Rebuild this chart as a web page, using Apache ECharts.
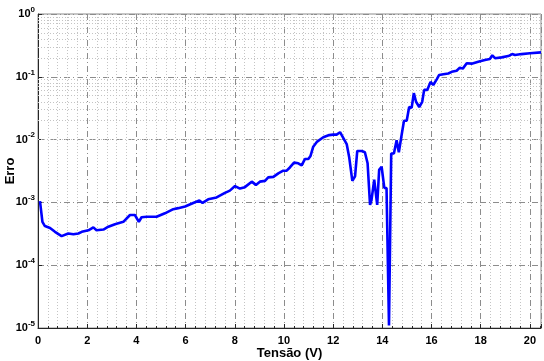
<!DOCTYPE html>
<html><head><meta charset="utf-8">
<script src="https://cdn.jsdelivr.net/npm/echarts@6/dist/echarts.min.js"></script>
<style>html,body{margin:0;padding:0;background:#fff}#c{width:544px;height:361px}</style>
</head><body><div id="c"></div>
<script>
const voltage = [0.08,0.18,0.28,0.49,0.69,0.96,1.23,1.44,1.64,1.78,2.05,2.25,2.38,2.66,2.86,3.13,3.47,3.74,3.94,4.10,4.21,4.42,4.82,5.16,5.50,5.70,5.98,6.31,6.56,6.69,6.92,7.26,7.60,7.80,8.01,8.21,8.41,8.69,8.86,9.02,9.23,9.36,9.57,9.77,9.97,10.11,10.24,10.41,10.58,10.72,10.85,10.99,11.08,11.19,11.35,11.60,11.84,12.00,12.14,12.28,12.55,12.65,12.78,12.89,12.98,13.16,13.29,13.40,13.50,13.56,13.67,13.79,13.87,13.97,14.08,14.17,14.27,14.36,14.47,14.58,14.67,14.80,14.88,14.99,15.09,15.19,15.28,15.37,15.50,15.62,15.70,15.83,15.96,16.07,16.21,16.31,16.48,16.68,16.82,17.02,17.15,17.27,17.43,17.63,17.90,18.17,18.37,18.47,18.58,18.85,19.12,19.28,19.39,19.66,20.00,20.45];
const erro = [1.05e-3,4.9e-4,4.2e-4,3.9e-4,3.4e-4,2.9e-4,3.2e-4,3.1e-4,3.2e-4,3.4e-4,3.6e-4,4.0e-4,3.6e-4,3.7e-4,4.1e-4,4.5e-4,4.9e-4,6.3e-4,6.3e-4,4.9e-4,5.8e-4,5.9e-4,5.9e-4,6.7e-4,7.8e-4,8.1e-4,8.6e-4,9.8e-4,1.07e-3,9.8e-4,1.12e-3,1.2e-3,1.42e-3,1.54e-3,1.82e-3,1.66e-3,1.75e-3,2.14e-3,1.9e-3,2.14e-3,2.2e-3,2.5e-3,2.55e-3,2.9e-3,3.2e-3,3.2e-3,3.6e-3,4.3e-3,4.2e-3,3.9e-3,4.9e-3,4.9e-3,5.5e-3,7.7e-3,9.3e-3,1.09e-2,1.18e-2,1.2e-2,1.2e-2,1.31e-2,8.5e-3,5.3e-3,2.2e-3,2.6e-3,6.6e-3,6.6e-3,6.3e-3,4.2e-3,9.1e-4,1.1e-3,2.3e-3,9.1e-4,3.3e-3,3.7e-3,1.7e-3,1.7e-3,1.1e-5,6.0e-3,6.0e-3,9.8e-3,6.3e-3,1.3e-2,2.0e-2,2.0e-2,3.3e-2,3.2e-2,5.5e-2,4.0e-2,3.3e-2,4.0e-2,6.2e-2,6.2e-2,8.3e-2,7.4e-2,9.1e-2,1.07e-1,1.1e-1,1.13e-1,1.2e-1,1.25e-1,1.4e-1,1.35e-1,1.64e-1,1.62e-1,1.74e-1,1.85e-1,1.92e-1,2.2e-1,1.98e-1,2.04e-1,2.14e-1,2.3e-1,2.22e-1,2.3e-1,2.37e-1,2.45e-1];
const xTicks = [0,2,4,6,8,10,12,14,16,18,20];
const decades = [-5,-4,-3,-2,-1,0];
const xName = 'Tensão (V)';
const yName = 'Erro';

const minorY = [];
for (let k = -5; k < 0; k++) for (let m = 2; m <= 9; m++) minorY.push(m * Math.pow(10, k));

const FONT = '"Liberation Sans", Arial, sans-serif';
const chart = echarts.init(document.getElementById('c'), null, {renderer: 'canvas'});
chart.setOption({
  animation: false,
  backgroundColor: '#fff',
  grid: {left: 38, right: 3, top: 14, bottom: 33, containLabel: false, outerBoundsMode: 'none',
    show: true, borderColor: '#8c8c8c', borderWidth: 1},
  xAxis: {
    type: 'value', min: 0, max: 20.45, interval: 2,
    name: xName, nameLocation: 'middle', nameGap: 19, nameMoveOverlap: false,
    nameTextStyle: {fontFamily: FONT, fontWeight: 'bold', fontSize: 13, color: '#000'},
    axisLine: {show: true, onZero: false, lineStyle: {color: '#262626', width: 1}},
    axisTick: {show: true, inside: true, length: 4, lineStyle: {color: '#262626'}},
    minorTick: {show: true, splitNumber: 5, length: 2, lineStyle: {color: '#262626'}},
    axisLabel: {fontFamily: FONT, fontWeight: 'bold', fontSize: 11, color: '#000', margin: 7, showMaxLabel: false,
      formatter: v => xTicks.indexOf(v) >= 0 ? String(v) : ''},
    splitLine: {show: true, lineStyle: {color: '#8c8c8c', width: 1, type: [6, 3, 1, 3]}},
    minorSplitLine: {show: true, lineStyle: {color: '#c4c4c4', width: 1, type: [1, 2]}}
  },
  yAxis: {
    type: 'log', logBase: 10, min: 1e-5, max: 1,
    name: yName, nameLocation: 'middle', nameGap: 21, nameMoveOverlap: false,
    nameTextStyle: {fontFamily: FONT, fontWeight: 'bold', fontSize: 13, color: '#000'},
    axisLine: {show: true, lineStyle: {color: '#262626', width: 1}},
    axisTick: {show: true, inside: true, length: 4, lineStyle: {color: '#262626'}},
    axisLabel: {
      margin: 3,
      formatter: v => '{b|10}{s|' + Math.round(Math.log10(v)) + '}',
      rich: {
        b: {fontFamily: FONT, fontWeight: 'bold', fontSize: 11, color: '#000'},
        s: {fontFamily: FONT, fontWeight: 'bold', fontSize: 8, color: '#000', padding: [0, 0, 9, 0]}
      }
    },
    splitLine: {show: true, lineStyle: {color: '#8c8c8c', width: 1, type: [6, 3, 1, 3]}}
  },
  series: [{
    type: 'line',
    data: voltage.map((v, i) => [v, erro[i]]),
    showSymbol: false,
    lineStyle: {color: '#0000ff', width: 2.6},
    itemStyle: {color: '#0000ff'},
    z: 5,
    markLine: {
      silent: true, symbol: 'none', label: {show: false}, animation: false,
      lineStyle: {color: '#c4c4c4', width: 1, type: [1, 2]},
      data: minorY.map(y => ({yAxis: y}))
    }
  }]
});
</script></body></html>
